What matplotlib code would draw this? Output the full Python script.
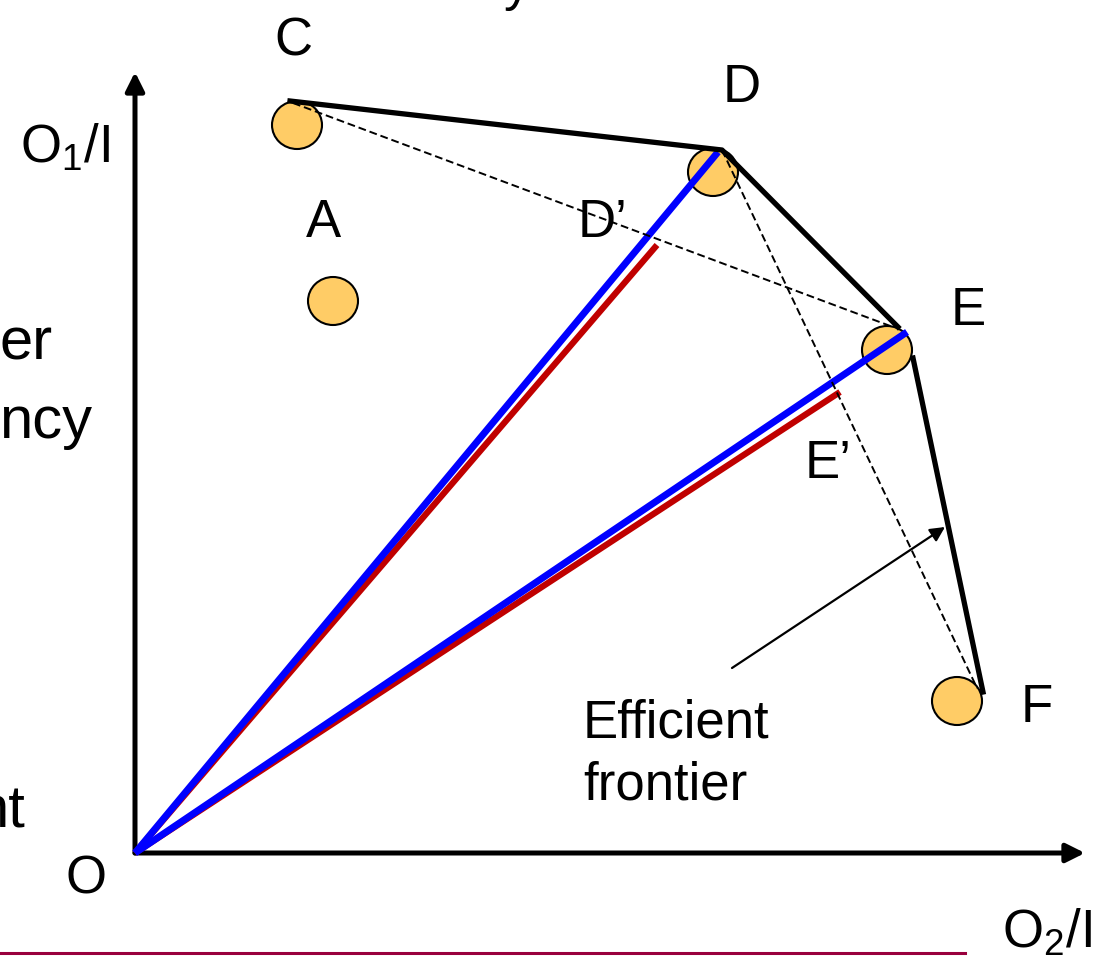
"""
DEA output-oriented efficiency diagram: units A-F, efficient frontier C-D-E-F
"""
import matplotlib.pyplot as plt
from matplotlib.patches import Ellipse

plt.rcParams['font.family'] = ['Liberation Sans', 'DejaVu Sans']
plt.rcParams['mathtext.default'] = 'regular'

# Decision making units (O2/I, O1/I)
units = ['C', 'A', 'D', 'E', 'F']
unit_x = [1.62, 1.98, 5.78, 7.52, 8.22]
unit_y = [7.28, 5.52, 6.81, 5.03, 1.52]

# Efficient frontier (drawn with a gap around E)
front1_x = [1.55, 5.87, 7.63]
front1_y = [7.52, 7.03, 5.26]
front2_x = [7.78, 8.48]
front2_y = [4.95, 1.61]

# Dashed reference lines C-E and D-F
dash_ce_x = [1.58, 7.58]
dash_ce_y = [7.50, 5.26]
dash_df_x = [5.87, 8.42]
dash_df_y = [7.03, 1.65]

# Rays from the origin: blue to D and E, red to projections D' and E'
blue_end_x = [5.83, 7.72]
blue_end_y = [7.01, 5.21]
red_end_x = [5.22, 7.05]
red_end_y = [6.08, 4.61]

fig = plt.figure(figsize=(11.06, 9.57), dpi=100)
ax = fig.add_axes([0, 0, 1, 1])
ax.set_xlim(-1.35, 9.71)
ax.set_ylim(-1.04, 8.53)
ax.axis('off')

# Axes with arrow heads
arrow = dict(arrowstyle='-|>', lw=3.6, color='black', mutation_scale=28, shrinkA=0, shrinkB=0)
ax.annotate('', xy=(0, 7.81), xytext=(0, 0), arrowprops=arrow)
ax.annotate('', xy=(9.50, 0), xytext=(0, 0), arrowprops=arrow)

# Rays
for x, y in zip(red_end_x, red_end_y):
    ax.plot([0, x], [0, y], color='#C00000', lw=4.5, solid_capstyle='butt', zorder=3)
for x, y in zip(blue_end_x, blue_end_y):
    ax.plot([0, x], [0, y], color='#0000FF', lw=5, solid_capstyle='butt', zorder=5)

# Units
for x, y in zip(unit_x, unit_y):
    ax.add_patch(Ellipse((x, y), 0.50, 0.48, facecolor='#FFCC66', edgecolor='black', lw=1.5, zorder=4))

# Frontier and dashed lines
ax.plot(front1_x, front1_y, color='black', lw=3.8, zorder=6)
ax.plot(front2_x, front2_y, color='black', lw=3.8, zorder=6)
ax.plot(dash_ce_x, dash_ce_y, color='black', lw=1.4, ls=(0, (4, 2)), zorder=6)
ax.plot(dash_df_x, dash_df_y, color='black', lw=1.4, ls=(0, (4, 2)), zorder=6)

# Efficient frontier pointer
ax.annotate('', xy=(8.10, 3.26), xytext=(5.97, 1.85),
            arrowprops=dict(arrowstyle='-|>', lw=1.6, color='black', mutation_scale=22, shrinkA=0, shrinkB=0))

fs = 38
ax.text(1.58, 7.98, 'C', fontsize=fs, ha='center', va='baseline')
ax.text(6.07, 7.51, 'D', fontsize=fs, ha='center', va='baseline')
ax.text(1.88, 6.16, 'A', fontsize=fs, ha='center', va='baseline')
ax.text(4.43, 6.16, 'D\u2019', fontsize=fs, ha='left', va='baseline')
ax.text(8.33, 5.28, 'E', fontsize=fs, ha='center', va='baseline')
ax.text(6.70, 3.75, 'E\u2019', fontsize=fs, ha='left', va='baseline')
ax.text(9.02, 1.31, 'F', fontsize=fs, ha='center', va='baseline')
ax.text(-0.49, -0.40, 'O', fontsize=fs, ha='center', va='baseline')
ax.text(-1.15, 6.90, 'O$_1$/I', fontsize=fs, ha='left', va='baseline')
ax.text(9.57, -0.95, 'O$_2$/I', fontsize=fs, ha='right', va='baseline')
ax.text(4.48, 1.15, 'Efficient', fontsize=fs, ha='left', va='baseline')
ax.text(4.48, 0.53, 'frontier', fontsize=fs, ha='left', va='baseline')

# Cut-off slide text at the edges
ax.text(-1.35, 4.94, 'er', fontsize=43, ha='left', va='baseline')
ax.text(-1.36, 4.15, 'ncy', fontsize=43, ha='left', va='baseline')
ax.text(-1.60, 0.25, 'nt', fontsize=43, ha='left', va='baseline')
ax.text(3.82, 8.53, 'y', fontsize=fs, ha='center', va='baseline')

# Slide footer rule
ax.plot([-1.35, 8.30], [-1.00, -1.00], color='#99003D', lw=2.2)

fig.savefig('out.png', dpi=100)
